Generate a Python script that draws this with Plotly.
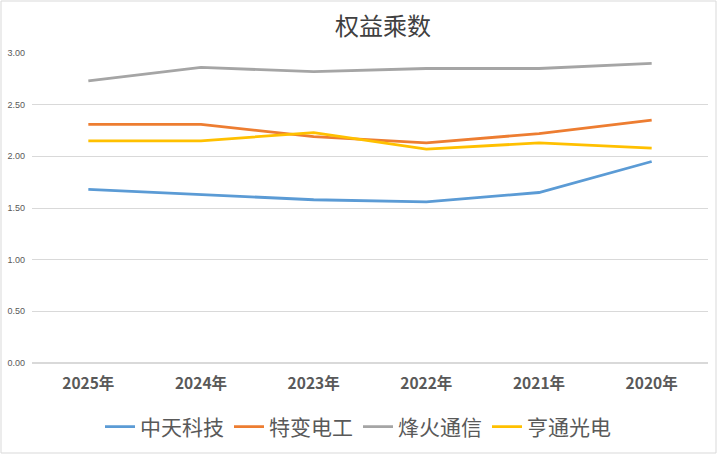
import plotly.graph_objects as go

years = ["2025年", "2024年", "2023年", "2022年", "2021年", "2020年"]
zhongtian = [1.68, 1.63, 1.58, 1.56, 1.65, 1.95]
tebian = [2.31, 2.31, 2.19, 2.13, 2.22, 2.35]
fenghuo = [2.73, 2.86, 2.82, 2.85, 2.85, 2.90]
hengtong = [2.15, 2.15, 2.23, 2.07, 2.13, 2.08]

series = [
    ("中天科技", zhongtian, "#5B9BD5"),
    ("特变电工", tebian, "#ED7D31"),
    ("烽火通信", fenghuo, "#A5A5A5"),
    ("亨通光电", hengtong, "#FFC000"),
]

fig = go.Figure()
for name, vals, color in series:
    fig.add_trace(go.Scatter(x=years, y=vals, mode="lines", name=name,
                             line=dict(color=color, width=2.8)))

W, H = 719, 455
ml, mr, mt, mb = 32, 11, 53, 92
pw, ph = W - ml - mr, H - mt - mb

fig.update_layout(
    width=W, height=H,
    margin=dict(l=ml, r=mr, t=mt, b=mb, autoexpand=False),
    paper_bgcolor="white", plot_bgcolor="white",
    font=dict(family="Noto Sans CJK SC", color="#595959"),
    title=dict(text="权益乘数", x=(383 - ml) / pw, xanchor="center", xref="paper",
               y=1 - 27 / H, yref="container", yanchor="middle",
               font=dict(size=24, color="#404040")),
    xaxis=dict(showgrid=False, showline=False, ticks="", range=[-0.5, 5.5],
               automargin=False,
               tickfont=dict(size=15.5, color="#595959", family="Noto Sans CJK SC", weight="bold"),
               ticklabelstandoff=9, fixedrange=True),
    yaxis=dict(range=[0, 3], dtick=0.5, tickformat=".2f", automargin=False,
               gridcolor="#D9D9D9", gridwidth=1, zeroline=True, zerolinecolor="#D9D9D9",
               showline=False, tickfont=dict(size=9, color="#595959", family="Liberation Sans"),
               ticklabelstandoff=6),
    legend=dict(orientation="h", x=(358 - ml) / pw, xanchor="center", y=(H - mb - 427) / ph,
                yanchor="middle",
                font=dict(size=21, color="#595959"), itemwidth=30, tracegroupgap=0),
    showlegend=True,
)

# light chart border
fig.add_shape(type="rect", xref="paper", yref="paper",
              x0=(1 - ml) / pw, x1=(716 - ml) / pw,
              y0=(H - mb - 453) / ph, y1=(H - mb - 1) / ph,
              line=dict(color="#D9D9D9", width=1), layer="below")

fig.write_html("out.html", config={"displayModeBar": False},
               post_script="document.body.style.margin='0';document.body.style.overflow='hidden';")
